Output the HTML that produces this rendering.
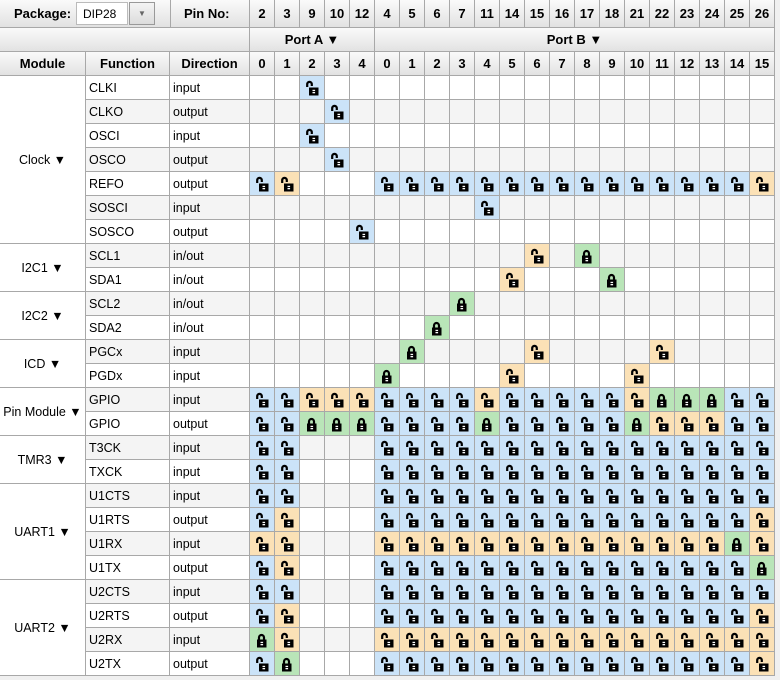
<!DOCTYPE html>
<html><head><meta charset="utf-8"><style>
body{margin:0;width:780px;height:680px;overflow:hidden;background:#f0f0f0;font-family:"Liberation Sans",sans-serif;}
#root{position:relative;width:780px;height:680px;}
.c{position:absolute;box-sizing:border-box;border-right:1px solid #a8a8a8;border-bottom:1px solid #a8a8a8;font-size:12.5px;color:#000;overflow:hidden;white-space:nowrap;}
.h{background:linear-gradient(#fafafa,#e2e2e2);font-weight:bold;font-size:13px;text-align:center;display:flex;align-items:center;justify-content:center;}
.t{padding-left:3px;display:flex;align-items:center;}
.m{display:flex;align-items:center;justify-content:center;background:#fff;}
.ic{position:absolute;left:5px;top:4px;}
</style></head><body>
<div id="root"></div>
<script>
const pins=['2','3','9','10','12','4','5','6','7','11','14','15','16','17','18','21','22','23','24','25','26'];
const bits=['0','1','2','3','4','0','1','2','3','4','5','6','7','8','9','10','11','12','13','14','15'];
const modules=[['Clock',7],['I2C1',2],['I2C2',2],['ICD',2],['Pin Module',2],['TMR3',2],['UART1',4],['UART2',4]];
const funcs=['CLKI','CLKO','OSCI','OSCO','REFO','SOSCI','SOSCO','SCL1','SDA1','SCL2','SDA2','PGCx','PGDx','GPIO','GPIO','T3CK','TXCK','U1CTS','U1RTS','U1RX','U1TX','U2CTS','U2RTS','U2RX','U2TX'];
const dirs=['input','output','input','output','output','input','output','in/out','in/out','in/out','in/out','input','input','input','output','input','input','input','output','input','output','input','output','input','output'];
// codes per row: A0-A4 then B0-B15; b=blue unlocked, o=orange unlocked, g=green locked, .=empty
const cells=[
'..b..................',
'...b.................',
'..b..................',
'...b.................',
'bo...bbbbbbbbbbbbbbbo',
'.........b...........',
'....b................',
'...........o.g.......',
'..........o...g......',
'........g............',
'.......g.............',
'......g....o....o....',
'.....g....o....o.....',
'bbooobbbbobbbbbogggbb',
'bbgggbbbbgbbbbbgooobb',
'bb...bbbbbbbbbbbbbbbb',
'bb...bbbbbbbbbbbbbbbb',
'bb...bbbbbbbbbbbbbbbb',
'bo...bbbbbbbbbbbbbbbo',
'oo...oooooooooooooogo',
'bo...bbbbbbbbbbbbbbbg',
'bb...bbbbbbbbbbbbbbbb',
'bo...bbbbbbbbbbbbbbbo',
'go...oooooooooooooooo',
'bg...bbbbbbbbbbbbbbbo'];
const colors={b:'#cbe3f8',o:'#fbe1b6',g:'#b9e5b8'};
const root=document.getElementById('root');
function box(x,y,w,h,cls,txt,name,inter){const d=document.createElement('div');d.className='c '+cls;d.style.left=x+'px';d.style.top=y+'px';d.style.width=w+'px';d.style.height=h+'px';if(txt!==undefined)d.textContent=txt;


root.appendChild(d);return d;}
const X0=250,CW=25,Y0=76,RH=24;
box(0,0,250,28,'h','',"package-header");
const pl=document.createElement('div');pl.textContent='Package:';pl.style.cssText='position:absolute;left:14px;top:6px;font-weight:bold;font-size:13px;';


root.appendChild(pl);
const cb=document.createElement('div');cb.style.cssText='position:absolute;left:76px;top:2px;width:52px;height:23px;background:#fff;border:1px solid #bbb;box-sizing:border-box;font-size:12px;padding:4px 0 0 6px;';cb.textContent='DIP28';


root.appendChild(cb);
const bt=document.createElement('div');bt.style.cssText='position:absolute;left:129px;top:2px;width:26px;height:23px;background:linear-gradient(#f4f4f4,#dcdcdc);border:1px solid #999;box-sizing:border-box;text-align:center;font-size:8px;color:#666;padding-top:6px;';bt.textContent='▼';


root.appendChild(bt);
const vl=document.createElement('div');vl.style.cssText='position:absolute;left:170px;top:0;width:1px;height:28px;background:#a8a8a8;';


root.appendChild(vl);
const pn=document.createElement('div');pn.textContent='Pin No:';pn.style.cssText='position:absolute;left:184px;top:6px;font-weight:bold;font-size:13px;';


root.appendChild(pn);
pins.forEach((p,i)=>box(X0+i*CW,0,CW,28,'h',p,'pin-number-'+p));
box(0,28,250,24,'h','','port-spacer');
box(250,28,125,24,'h','Port A ▼','port-a-header',true);
box(375,28,400,24,'h','Port B ▼','port-b-header',true);
box(0,52,86,24,'h','Module','module-header');
box(86,52,84,24,'h','Function','function-header');
box(170,52,80,24,'h','Direction','direction-header');
bits.forEach((b,i)=>box(X0+i*CW,52,CW,24,'h',b,'port-bit-'+i));
let r=0;
modules.forEach(([n,c])=>{box(0,Y0+r*RH,86,c*RH,'m',n+' ▼','module-'+n.toLowerCase().replace(' ','-'),true);r+=c;});
function lock(code){const locked=code==='g';
const bx=locked?2:4;
return '<svg class="ic" width="15" height="16" viewBox="0 0 15 16">'+(locked?'<path d="M4 8V5.5a2.5 2.5 0 0 1 5 0V8" fill="none" stroke="#000" stroke-width="2.2"/>':'<path d="M2.2 7V4.2a2.3 2.3 0 0 1 4.6 0v1.8" fill="none" stroke="#000" stroke-width="2.2"/>')+'<rect x="'+bx+'" y="7.5" width="9.5" height="8" fill="#000"/><rect x="'+(bx+3.5)+'" y="9.8" width="2.6" height="1.3" fill="#fff"/><rect x="'+(bx+3.5)+'" y="12" width="2.6" height="1.3" fill="#fff"/></svg>';}
funcs.forEach((f,i)=>{const y=Y0+i*RH;const bg=i%2?'#f4f4f4':'#fff';
box(86,y,84,RH,'t',f,'function-'+f.toLowerCase()).style.background=bg;
box(170,y,80,RH,'t',dirs[i],'direction-'+i).style.background=bg;
for(let j=0;j<21;j++){const code=cells[i][j];const d=box(X0+j*CW,y,CW,RH,'','','cell-'+f.toLowerCase()+'-'+j,code!=='.');d.style.background=code==='.'?bg:colors[code];if(code!=='.')d.innerHTML=lock(code);}
});
</script>
</body></html>
